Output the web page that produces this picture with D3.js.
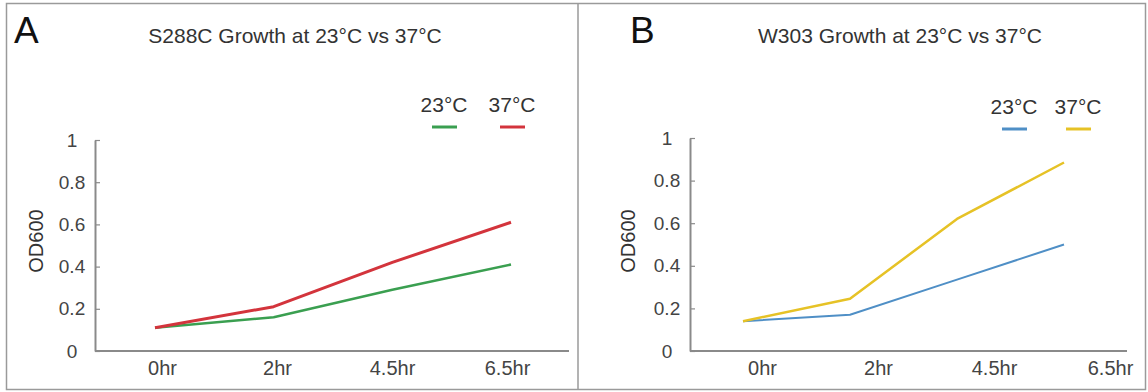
<!DOCTYPE html>
<html>
<head>
<meta charset="utf-8">
<script src="https://cdn.jsdelivr.net/npm/d3@7"></script>
<style>
  body { margin: 0; background: #fff; }
  text { font-family: Arial, "Liberation Sans", sans-serif; }
</style>
</head>
<body>
<svg id="chart" width="1148" height="392"></svg>
<script>
// data
const categories = ["0hr", "2hr", "4.5hr", "6.5hr"];
const yTicks = [0, 0.2, 0.4, 0.6, 0.8, 1];
const seriesNames = ["23°C", "37°C"];
const s288c23 = [0.11, 0.16, 0.29, 0.41];
const s288c37 = [0.11, 0.21, 0.42, 0.61];
const w303_23 = [0.14, 0.17, 0.335, 0.50];
const w303_37 = [0.14, 0.245, 0.62, 0.885];

const svg = d3.select("#chart");

// panel frames
svg.append("rect").attr("x", 6.5).attr("y", 3.5).attr("width", 1139).attr("height", 386)
  .attr("fill", "none").attr("stroke", "#9a9a9a").attr("stroke-width", 1.5);
svg.append("line").attr("x1", 578).attr("x2", 578).attr("y1", 3.5).attr("y2", 389.5)
  .attr("stroke", "#9a9a9a").attr("stroke-width", 1.5);

function drawPanel(p) {
  const y = d3.scaleLinear().domain([0, 1]).range([351, p.yTop]);
  const xLine = d3.scalePoint().domain(categories).range(p.lineRange);
  const xLab = d3.scalePoint().domain(categories).range(p.labelRange);
  const g = svg.append("g");

  // panel letter and title
  g.append("text").attr("x", p.letterX).attr("y", 43).text(p.letter)
    .style("font-size", "37px").style("fill", "#111");
  g.append("text").attr("x", p.titleX).attr("y", 43).attr("text-anchor", "middle")
    .text(p.title).style("font-size", "21px").style("fill", "#333");

  // y axis
  const yAxis = g.append("g").attr("transform", "translate(" + p.axisX + ",0)")
    .call(d3.axisLeft(y).tickValues(yTicks).tickSize(-5).tickSizeOuter(0).tickFormat(d3.format("")));
  yAxis.select(".domain").attr("stroke", "#8a8a8a").attr("stroke-width", 2);
  yAxis.selectAll(".tick line").attr("stroke", "#8a8a8a").attr("stroke-width", 1.2);
  yAxis.selectAll(".tick text").attr("x", -23).attr("text-anchor", "middle")
    .style("font-size", "19px").style("font-family", "Arial, 'Liberation Sans', sans-serif").style("fill", "#444");

  // x axis line + labels
  g.append("line").attr("x1", p.axisX).attr("x2", p.axisEnd).attr("y1", 351).attr("y2", 351)
    .attr("stroke", "#8a8a8a").attr("stroke-width", 2);
  const xAxis = g.append("g").attr("transform", "translate(0,351)")
    .call(d3.axisBottom(xLab).tickSize(0).tickPadding(10));
  xAxis.select(".domain").remove();
  xAxis.selectAll(".tick text").style("font-size", "20px")
    .style("font-family", "Arial, 'Liberation Sans', sans-serif").style("fill", "#444");

  // axis title
  g.append("text").attr("transform", "translate(" + p.yTitleX + ",241) rotate(-90)")
    .attr("text-anchor", "middle").attr("dy", "0.35em").text("OD600")
    .style("font-size", "20px").style("fill", "#333");

  const line = d3.line().x((d, i) => xLine(categories[i])).y(d => y(d));
  p.series.forEach((s, i) => {
    g.append("path").datum(s.values).attr("d", line).attr("fill", "none")
      .attr("stroke", s.color).attr("stroke-width", s.width).attr("stroke-linejoin", "round");
    // legend
    const lx = p.legendX[i];
    g.append("text").attr("x", lx).attr("y", p.legendY).attr("text-anchor", "middle")
      .text(seriesNames[i]).style("font-size", "21px").style("fill", "#333");
    g.append("line").attr("x1", lx - 12).attr("x2", lx + 13)
      .attr("y1", p.legendY + 15).attr("y2", p.legendY + 15)
      .attr("stroke", s.color).attr("stroke-width", 3);
  });
}

drawPanel({
  letter: "A", letterX: 14, title: "S288C Growth at 23°C vs 37°C", titleX: 295,
  axisX: 95, axisEnd: 569, yTop: 140, yTitleX: 36,
  lineRange: [155, 511], labelRange: [162, 507],
  legendX: [444, 512], legendY: 112,
  series: [
    { values: s288c23, color: "#3a9f50", width: 2.5 },
    { values: s288c37, color: "#d3343c", width: 3 }
  ]
});

drawPanel({
  letter: "B", letterX: 630, title: "W303 Growth at 23°C vs 37°C", titleX: 900,
  axisX: 690, axisEnd: 1127, yTop: 138, yTitleX: 628,
  lineRange: [743, 1064], labelRange: [762, 1110],
  legendX: [1014, 1078], legendY: 114,
  series: [
    { values: w303_23, color: "#4f8fc6", width: 2 },
    { values: w303_37, color: "#e6c226", width: 2.5 }
  ]
});
</script>
</body>
</html>
